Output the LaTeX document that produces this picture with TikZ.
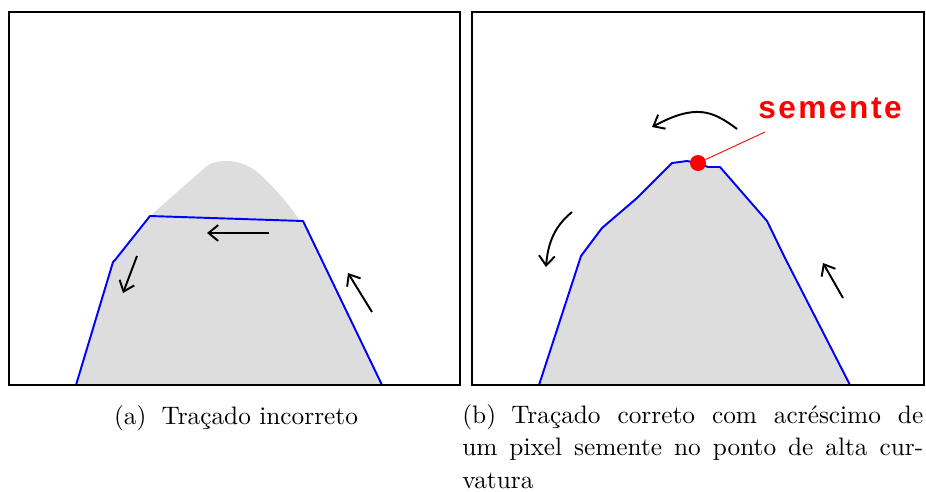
\documentclass[tikz,border=0pt]{standalone}
\usepackage{fontspec}
\newfontfamily\seedfont[LetterSpace=8]{Liberation Sans}
\newfontfamily\capfont{lmroman10-regular}[Extension=.otf]
\usetikzlibrary{arrows.meta}
\definecolor{blobgray}{RGB}{221,221,221}

\begin{document}
\begin{tikzpicture}[x=0.02cm,y=-0.02cm]
% Two contour-tracing panels, drawn in pixel units with the origin top left.
\useasboundingbox (0,0) rectangle (926,491);

\tikzset{
  panel/.style={draw=black,line width=1.3pt},
  blob/.style={fill=blobgray},
  trace/.style={draw=blue,line width=1.1pt,line join=round},
  move/.style={line width=1.1pt,-{Straight Barb[length=5.5pt,width=9pt]}},
  captext/.style={font=\capfont\fontsize{14.4}{18.5}\selectfont,inner sep=0pt},
  seedlab/.style={text=red,font=\seedfont\bfseries\fontsize{18}{18}\selectfont,inner sep=0pt},
  seeddot/.style={circle,fill=red,inner sep=0pt,minimum size=0.32cm}
}

% Left panel: the trace cuts off the top of the region.
\fill[blob] (76,385) -- (113,262) -- (150,216) -- (200,172)
  .. controls (208,164) and (214,161) .. (226,161)
  .. controls (240,161) and (252,166) .. (264,178)
  .. controls (280,194) and (292,208) .. (300,221) -- (303,221) -- (382,385) -- cycle;
\draw[trace] (76,385) -- (113,262) -- (115,260) -- (150,216) -- (303,221) -- (382,385);
\draw[panel] (9,12) rectangle (460,385);
\draw[move] (269,233) -- (207,233);
\draw[move] (137,256) -- (123,293);
\draw[move] (372,312) -- (348,273);

% Right panel: the seed pixel keeps the trace on the peak.
\fill[blob] (539,385) -- (581,256) -- (602,228) -- (637,198) -- (672,163) -- (687,161)
  -- (698,163) -- (708,167) -- (720,167) -- (767,221) -- (785,258) -- (850,385) -- cycle;
\draw[trace] (539,385) -- (581,256) -- (602,228) -- (637,198) -- (672,163) -- (687,161)
  -- (698,163) -- (708,167) -- (720,167) -- (767,221) -- (785,258) -- (850,385);
\node[seeddot] (seed) at (698,163) {};
\node[seedlab] (seedl) at (830,108) {semente};
\coordinate (seedtip) at (765,132);
\draw[red,line width=0.5pt] (seed) -- (seedtip);
\draw[panel] (472,12) rectangle (924,385);
\draw[move] (737,129) .. controls (712,110) and (695,104) .. (652,127);
\draw[move] (572,212) .. controls (555,226) and (548,242) .. (546,267);
\draw[move] (843,298) -- (823,263);

% Captions.
\node[captext,anchor=base] (capa) at (236,424) {(a)\hspace{0.6em}Traçado incorreto};
\node[captext,anchor=north west,text width=9.22cm,align=justify] (capb) at (462,404)
  {(b)\hspace{0.6em}Traçado correto com acréscimo de\linebreak um pixel semente no ponto de alta cur-\linebreak vatura};
\end{tikzpicture}
\end{document}
